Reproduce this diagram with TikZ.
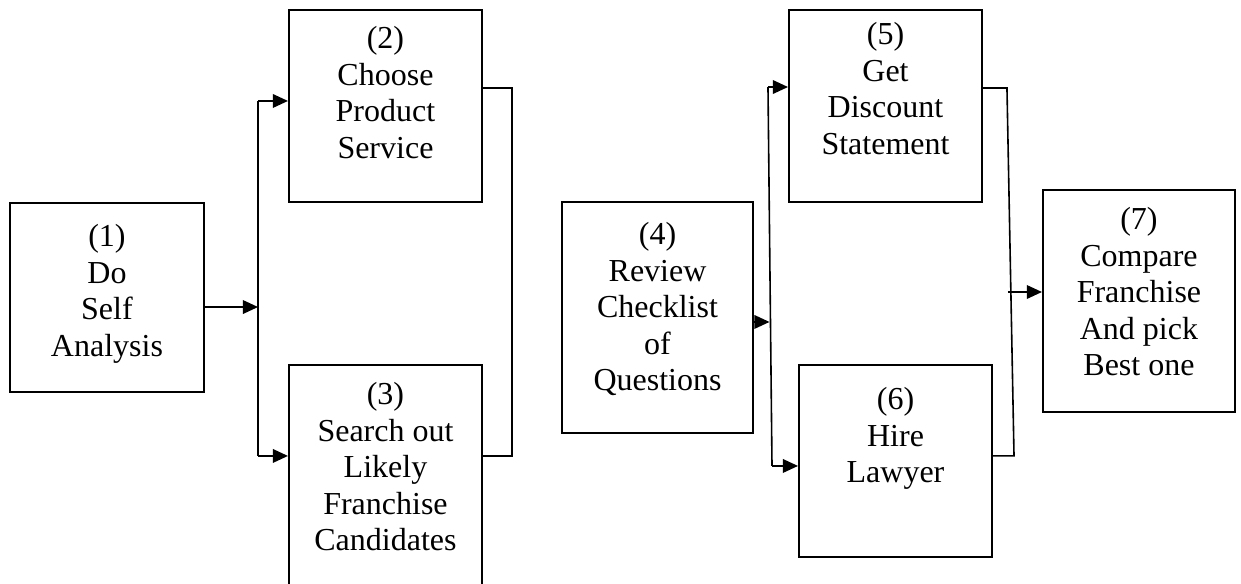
\documentclass[tikz,border=0pt]{standalone}
\usepackage{fontspec}
\setmainfont{Liberation Serif}
\usetikzlibrary{arrows.meta}
\tikzset{
  stage/.style={draw, line width=0.75pt, inner sep=0pt},
  stagetext/.style={anchor=north, inner sep=0pt, align=center,
    font=\fontsize{12}{13.7}\selectfont},
  flow/.style={line width=0.6pt, -{Triangle[length=2mm,width=1.8mm]}},
  link/.style={line width=0.6pt}
}
\begin{document}
\begin{tikzpicture}
        \useasboundingbox (0,0) rectangle (16.358,-7.685);
        % the seven steps
        \node[stage, minimum width=2.557cm, minimum height=2.491cm] (s1) at (1.410,-3.921) {};
        \node[stage, minimum width=2.544cm, minimum height=2.531cm] (s2) at (5.081,-1.397) {};
        \node[stage, minimum width=2.544cm, minimum height=3.163cm] (s3) at (5.081,-6.393) {};
        \node[stage, minimum width=2.518cm, minimum height=3.045cm] (s4) at (8.667,-4.185) {};
        \node[stage, minimum width=2.544cm, minimum height=2.531cm] (s5) at (11.672,-1.397) {};
        \node[stage, minimum width=2.544cm, minimum height=2.531cm] (s6) at (11.804,-6.076) {};
        \node[stage, minimum width=2.531cm, minimum height=2.926cm] (s7) at (15.013,-3.967) {};
        \node[stagetext] (t1) at ([yshift=-0.29cm]s1.north) {(1)\\Do\\Self\\Analysis};
        \node[stagetext] (t2) at ([yshift=-0.224cm]s2.north) {(2)\\Choose\\Product\\Service};
        \node[stagetext] (t3) at ([yshift=-0.237cm]s3.north) {(3)\\Search out\\Likely\\Franchise\\Candidates};
        \node[stagetext] (t4) at ([yshift=-0.277cm]s4.north) {(4)\\Review\\Checklist\\of\\Questions};
        \node[stagetext] (t5) at ([yshift=-0.171cm]s5.north) {(5)\\Get\\Discount\\Statement};
        \node[stagetext] (t6) at ([yshift=-0.303cm]s6.north) {(6)\\Hire\\Lawyer};
        \node[stagetext] (t7) at ([yshift=-0.237cm]s7.north) {(7)\\Compare\\Franchise\\And pick\\Best one};
        % bend points
        \coordinate (j1) at (3.401,-4.047);
        \coordinate (up1) at (3.401,-1.331);
        \coordinate (dn1) at (3.401,-6.010);
        \coordinate (r1) at (6.749,-1.160);
        \coordinate (r2) at (6.749,-6.010);
        \coordinate (j2) at (10.143,-4.244);
        \coordinate (up2) at (10.123,-1.147);
        \coordinate (dn2) at (10.176,-6.142);
        \coordinate (r3) at (13.273,-1.160);
        \coordinate (r4) at (13.366,-6.010);
        \coordinate (j3) at (13.286,-3.849);
        % first half
        \draw[flow](s1.east |- j1)--(j1);
        \draw[link](up1)--(dn1);
        \draw[flow](up1)--(s2.west |- up1);
        \draw[flow](dn1)--(s3.west |- dn1);
        \draw[link](s2.east |- r1)--(r1)--(r2)--(s3.east |- r2);
        % second half
        \draw[flow](s4.east |- j2)--(j2);
        \draw[link](up2)--(dn2);
        \draw[flow](up2)--(s5.west |- up2);
        \draw[flow](dn2)--(s6.west |- dn2);
        \draw[link](s5.east |- r3)--(r3)--(r4)--(s6.east |- r4);
        \draw[flow](j3)--(s7.west |- j3);
    \end{tikzpicture}
\end{document}
